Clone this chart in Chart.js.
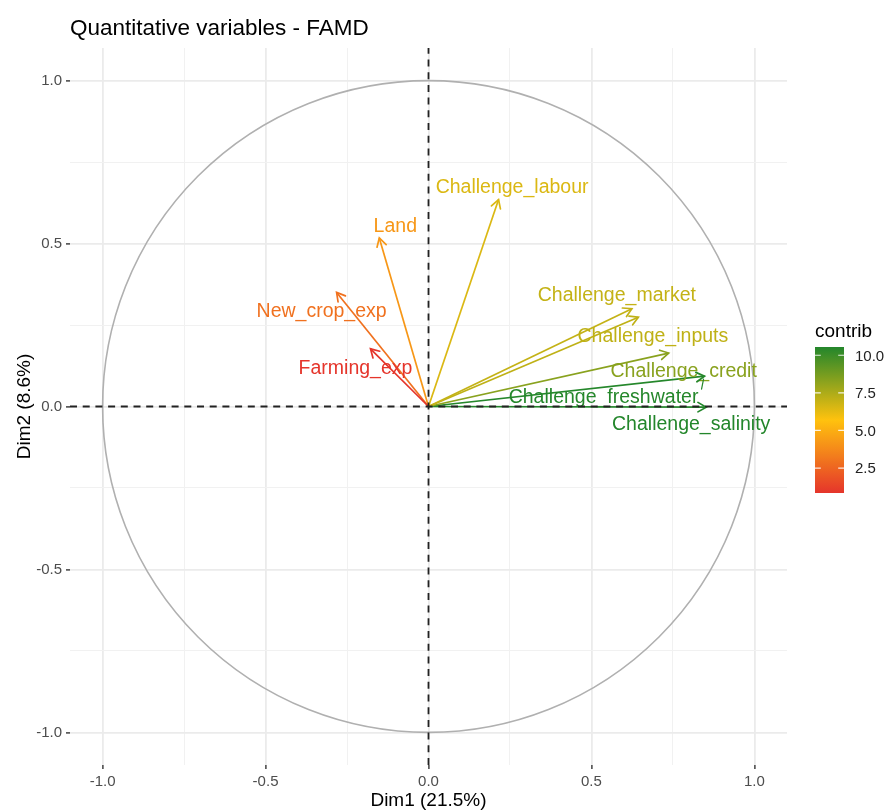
<!DOCTYPE html>
<html><head><meta charset="utf-8">
<script src="https://cdn.jsdelivr.net/npm/chart.js@4"></script>
<style>html,body{margin:0;padding:0;background:#fff}#wrap{width:885px;height:810px;position:relative}</style>
</head><body><div id="wrap"><canvas id="c"></canvas></div>
<script>
// ---- data ----
const variables = ['Farming_exp','New_crop_exp','Land','Challenge_labour','Challenge_market','Challenge_inputs','Challenge_credit','Challenge_freshwater','Challenge_salinity'];
const dim1 = [-0.178,-0.282,-0.151,0.215,0.624,0.644,0.737,0.847,0.852];
const dim2 = [0.177,0.350,0.517,0.635,0.300,0.274,0.164,0.093,-0.002];
const contrib = [0.84,2.9,4.2,6.5,7.0,7.1,8.3,10.5,10.55];
const majorTicks = [-1.0,-0.5,0.0,0.5,1.0];
const minorTicks = [-0.75,-0.25,0.25,0.75];
const legendTicks = [2.5,5.0,7.5,10.0];
const chartTitle = 'Quantitative variables - FAMD';
const xTitle = 'Dim1 (21.5%)';
const yTitle = 'Dim2 (8.6%)';
const legendTitle = 'contrib';
// label nudges relative to arrow tip (px) - layout only
const labelDx = [-15,-15,16,13.5,-15,14.5,15,-101,-15];
const labelDy = [18,17.3,-13.3,-13.3,-14.7,17.3,17.4,20,16];

// ---- styling ----
const FONT = '"Liberation Sans", Arial, Helvetica, sans-serif';
const gradStops = ['#E5352B','#FFC20E','#23862B'];
const lo = Math.min(...contrib), hi = Math.max(...contrib);
function hex2rgb(h){return [1,3,5].map(i=>parseInt(h.substr(i,2),16));}
function colorFor(v){
  let t=(v-lo)/(hi-lo); t=Math.max(0,Math.min(1,t));
  const seg = t<0.5?0:1; const u = seg===0? t/0.5 : (t-0.5)/0.5;
  const a=hex2rgb(gradStops[seg]), b=hex2rgb(gradStops[seg+1]);
  return 'rgb('+a.map((x,i)=>Math.round(x+(b[i]-x)*u)).join(',')+')';
}
const allTicks = [...majorTicks, ...minorTicks].sort((a,b)=>a-b);
const isMajor = v => majorTicks.some(m=>Math.abs(m-v)<1e-9);

const datasets = variables.map((name,i)=>({
  label:name,
  data:[{x:0,y:0},{x:dim1[i],y:dim2[i]}],
  showLine:true, borderColor:colorFor(contrib[i]), borderWidth:1.7,
  pointRadius:0, pointHoverRadius:0, fill:false
}));

function axisCfg(isX){
  return {
    type:'linear', min:-1.1, max:1.1,
    afterBuildTicks(s){ s.ticks = allTicks.map(v=>({value:v})); },
    afterFit(s){ if(isX) s.height=45; else s.width=70; },
    ticks:{autoSkip:false, maxRotation:0, padding: isX?4:4, color:'#4D4D4D',
      font:{size:15, family:FONT},
      callback:(v)=> isMajor(v) ? Number(v).toFixed(1) : ''},
    grid:{
      color:(c)=> (c.tick && isMajor(c.tick.value)) ? '#EBEBEB' : '#F1F1F1',
      lineWidth:(c)=> (c.tick && isMajor(c.tick.value)) ? 1.8 : 1.0,
      tickLength:4,
      tickColor:(c)=> (c.tick && isMajor(c.tick.value)) ? '#333333' : 'rgba(0,0,0,0)',
      tickWidth:1.4
    },
    border:{display:false}
  };
}

const decor = {
  id:'decor',
  beforeDatasetsDraw(chart){
    const {ctx, scales:{x,y}} = chart;
    const cx = x.getPixelForValue(0), cy = y.getPixelForValue(0);
    const rx = x.getPixelForValue(1)-cx, ry = cy - y.getPixelForValue(1);
    ctx.save();
    ctx.strokeStyle='#B0B0B0'; ctx.lineWidth=1.6;
    ctx.beginPath(); ctx.ellipse(cx,cy,rx,ry,0,0,Math.PI*2); ctx.stroke();
    ctx.restore();
  },
  afterDatasetsDraw(chart){
    const {ctx, chartArea:a, scales:{x,y}} = chart;
    ctx.save();
    variables.forEach((name,i)=>{
      const meta = chart.getDatasetMeta(i);
      const p0 = meta.data[0], p1 = meta.data[1];
      const col = colorFor(contrib[i]);
      const ang = Math.atan2(p1.y-p0.y, p1.x-p0.x);
      const L = 9.5, w = Math.PI/6;
      ctx.strokeStyle = col; ctx.lineWidth = 1.7; ctx.lineCap='round';
      ctx.beginPath();
      ctx.moveTo(p1.x - L*Math.cos(ang-w), p1.y - L*Math.sin(ang-w));
      ctx.lineTo(p1.x, p1.y);
      ctx.lineTo(p1.x - L*Math.cos(ang+w), p1.y - L*Math.sin(ang+w));
      ctx.stroke();
      if (Math.abs(labelDx[i])>50){ // repel segment
        ctx.lineWidth=1.2;
        ctx.beginPath(); ctx.moveTo(p1.x-1, p1.y+3); ctx.lineTo(p1.x-3, p1.y+13); ctx.stroke();
      }
      ctx.fillStyle = col;
      ctx.font = '19.5px '+FONT;
      ctx.textAlign='center'; ctx.textBaseline='alphabetic';
      ctx.fillText(name, p1.x+labelDx[i], p1.y+labelDy[i]+7);
    });
    const zx = x.getPixelForValue(0), zy = y.getPixelForValue(0);
    ctx.strokeStyle='#222'; ctx.lineWidth=1.8; ctx.lineCap='butt';
    ctx.setLineDash([7,5.7]);
    ctx.beginPath(); ctx.moveTo(a.left, zy); ctx.lineTo(a.right, zy); ctx.stroke();
    ctx.beginPath(); ctx.moveTo(zx, a.bottom); ctx.lineTo(zx, a.top); ctx.stroke();
    ctx.setLineDash([]);
    ctx.restore();
  },
  afterDraw(chart){
    const {ctx, chartArea:a} = chart;
    ctx.save();
    ctx.fillStyle='#000'; ctx.font='22.5px '+FONT; ctx.textAlign='left'; ctx.textBaseline='alphabetic';
    ctx.fillText(chartTitle, 70, 34.5);
    ctx.font='19px '+FONT; ctx.textAlign='center';
    ctx.fillText(xTitle, (a.left+a.right)/2, 806);
    ctx.save(); ctx.translate(30, (a.top+a.bottom)/2); ctx.rotate(-Math.PI/2);
    ctx.fillText(yTitle, 0, 0); ctx.restore();
    // legend colourbar
    const bx=815, bw=29, bt=347, bb=493, bh=bb-bt;
    const g = ctx.createLinearGradient(0, bb, 0, bt);
    for(let k=0;k<=40;k++){ g.addColorStop(k/40, colorFor(lo + (hi-lo)*k/40)); }
    ctx.fillStyle=g; ctx.fillRect(bx, bt, bw, bh);
    ctx.fillStyle='#000'; ctx.font='19px '+FONT; ctx.textAlign='left';
    ctx.fillText(legendTitle, 815, 337);
    ctx.font='15px '+FONT; ctx.fillStyle='#222';
    legendTicks.forEach(t=>{
      const ty = bb - (t-lo)/(hi-lo)*bh;
      ctx.strokeStyle='rgba(255,255,255,0.85)'; ctx.lineWidth=1.2;
      ctx.beginPath(); ctx.moveTo(bx, ty); ctx.lineTo(bx+5.8, ty);
      ctx.moveTo(bx+bw-5.8, ty); ctx.lineTo(bx+bw, ty); ctx.stroke();
      ctx.fillText(t.toFixed(1), 855, ty+5.4);
    });
    ctx.restore();
  }
};

new Chart(document.getElementById('c'), {
  type:'scatter',
  data:{datasets},
  options:{
    responsive:true, maintainAspectRatio:false, animation:false,
    layout:{padding:{left:0,right:98,top:48,bottom:0}},
    plugins:{legend:{display:false}, tooltip:{enabled:false}, title:{display:false}},
    events:[],
    scales:{x:axisCfg(true), y:axisCfg(false)}
  },
  plugins:[decor]
});
</script>
</body></html>
